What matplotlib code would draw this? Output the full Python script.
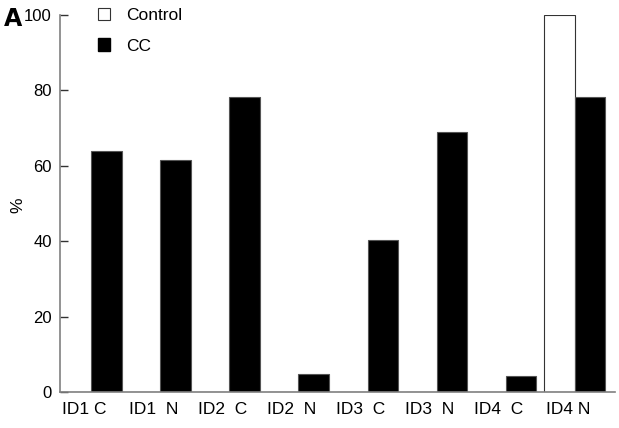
import numpy as np
import matplotlib.pyplot as plt
from matplotlib.patches import Patch

# data
groups = ["ID1 C", "ID1  N", "ID2  C", "ID2  N", "ID3  C", "ID3  N", "ID4  C", "ID4 N"]
control = [0, 0, 0, 0, 0, 0, 0, 100]
cc = [64.0, 61.7, 78.2, 4.9, 40.5, 68.9, 4.3, 78.4]

plt.rcParams['font.family'] = ['Liberation Sans', 'DejaVu Sans']

fig = plt.figure(figsize=(6.19, 4.28), dpi=100)
ax = fig.add_axes([0.097, 0.083, 0.8965, 0.882])

x = np.arange(len(groups))
w = 0.44
ax.bar(x - w / 2, control, width=w, align='center', color='white',
       edgecolor='#333333', linewidth=0.8)
ax.bar(x + w / 2, cc, width=w, align='center', color='black',
       edgecolor='#555555', linewidth=0.8)

ax.set_xlim(-0.45, 7.58)
ax.set_ylim(0, 100)
ax.set_yticks([0, 20, 40, 60, 80, 100])
ax.set_xticks(x - 0.1)
ax.set_xticklabels(groups, fontsize=12.5)
ax.tick_params(axis='x', length=0, pad=7)
ax.tick_params(axis='y', direction='in', length=6, width=1, labelsize=12,
               pad=5.8, color='#333333')
ax.set_ylabel('%', fontsize=12.5)
ax.yaxis.set_label_coords(-0.062, 0.497)

for s in ['top', 'right']:
    ax.spines[s].set_visible(False)
for s in ['left', 'bottom']:
    ax.spines[s].set_color('#808080')
    ax.spines[s].set_linewidth(1.2)

handles = [Patch(facecolor='white', edgecolor='#333333', linewidth=0.8),
           Patch(facecolor='black', edgecolor='black')]
fig.legend(handles, ['Control', 'CC'], loc='upper left',
           bbox_to_anchor=(0.155, 0.986), frameon=False, fontsize=12.5,
           handlelength=0.72, handleheight=0.72, handletextpad=0.9,
           labelspacing=0.88, borderpad=0.1, borderaxespad=0)

fig.text(0.006, 0.956, 'A', fontsize=17, fontweight='bold', va='center', ha='left',
         family='DejaVu Sans')

fig.savefig('out.png', dpi=100)
